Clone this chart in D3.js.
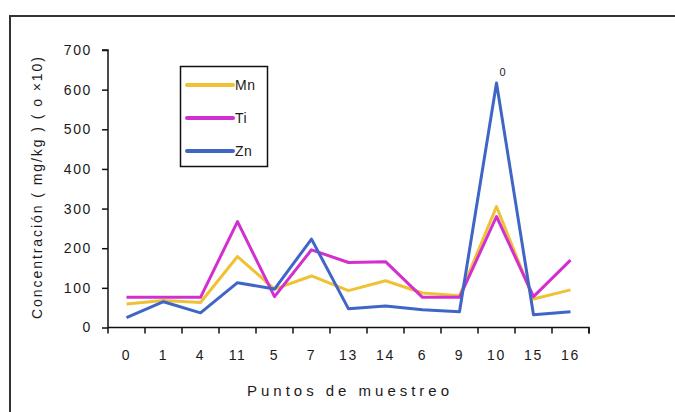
<!DOCTYPE html>
<html><head><meta charset="utf-8">
<script src="https://cdn.jsdelivr.net/npm/d3@7"></script>
<style>html,body{margin:0;padding:0;background:#fff;}svg{display:block;font-family:"Liberation Sans",Arial,sans-serif;}</style>
</head><body>
<svg id="c" width="675" height="412"></svg>
<script>
const categories = ["0","1","4","11","5","7","13","14","6","9","10","15","16"];
const mn = [59, 68, 63, 179, 97, 130, 93, 118, 87, 80, 305, 72, 95];
const ti = [76, 76, 76, 267, 78, 196, 164, 166, 76, 76, 280, 78, 170];
const zn = [25, 65, 37, 113, 97, 223, 47, 54, 45, 40, 617, 32, 40];
const seriesNames = ["Mn","Ti","Zn"];
const seriesColors = ["#eec234","#d22fcf","#3f66c6"];
const yTicks = [0,100,200,300,400,500,600,700];
const xTitle = "Puntos de muestreo";
const yTitle = "Concentración ( mg/kg ) ( o ×10)";
const annotation = "0";

const svg = d3.select("#c");
const L = 108, R = 589, T = 50, B = 327.5;
const x = d3.scaleBand().domain(categories).range([L, R]);
const y = d3.scaleLinear().domain([0,700]).range([B, T]);

// outer frame
svg.append("rect").attr("x",10).attr("y",16).attr("width",700).attr("height",420)
  .attr("fill","none").attr("stroke","#333").attr("stroke-width",2);

// y axis
const ya = svg.append("g").attr("transform",`translate(${L},0)`)
  .call(d3.axisLeft(y).tickValues(yTicks).tickSize(6).tickPadding(10));
ya.select(".domain").attr("stroke","#111").attr("stroke-width",1.5).attr("d",`M-6,${T}H0V${B}`);
ya.selectAll(".tick line").attr("stroke","#111").attr("stroke-width",1.5);
ya.selectAll(".tick text").attr("font-size",14).attr("fill","#1a1a1a").attr("letter-spacing","1.6px").attr("font-family","Liberation Sans, Arial, sans-serif");

// x axis
const xa = svg.append("g").attr("transform",`translate(0,${B})`)
  .call(d3.axisBottom(x).tickSize(0).tickPadding(23));
xa.select(".domain").attr("stroke","#111").attr("stroke-width",1.5).attr("d",`M${L},0H${R}V6`);
xa.selectAll(".tick text").attr("font-size",14).attr("fill","#1a1a1a").attr("letter-spacing","1.6px").attr("font-family","Liberation Sans, Arial, sans-serif");
// category boundary ticks
const bounds = categories.map(c => x(c)).concat([R]);
svg.append("g").selectAll("line").data(bounds).join("line")
  .attr("x1",d=>d).attr("x2",d=>d).attr("y1",B).attr("y2",B+6)
  .attr("stroke","#111").attr("stroke-width",1.5);

// lines
const data = [mn, ti, zn];
const line = d3.line().x((d,i)=>x(categories[i]) + x.bandwidth()/2).y(d=>y(d));
svg.append("g").selectAll("path").data(data).join("path")
  .attr("d", d=>line(d)).attr("fill","none")
  .attr("stroke",(d,i)=>seriesColors[i]).attr("stroke-width",3).attr("stroke-linejoin","round");

// annotation
const pk = zn.indexOf(d3.max(zn));
svg.append("text").attr("x", x(categories[pk]) + x.bandwidth()/2 + 6).attr("y", y(zn[pk]) - 7)
  .attr("font-size",11).attr("fill","#222").attr("text-anchor","middle").text(annotation);

// axis titles
svg.append("text").attr("x",348).attr("y",396).attr("text-anchor","middle")
  .attr("font-size",15).attr("fill","#1a1a1a").attr("textLength",202).attr("lengthAdjust","spacing").text(xTitle);
svg.append("text").attr("transform","translate(42,188) rotate(-90)").attr("text-anchor","middle")
  .attr("font-size",14).attr("fill","#1a1a1a").attr("textLength",262).attr("lengthAdjust","spacing").text(yTitle);

// legend
const lg = svg.append("g");
lg.append("rect").attr("x",180.5).attr("y",66.5).attr("width",87).attr("height",100)
  .attr("fill","#fff").attr("stroke","#111").attr("stroke-width",1.5);
const ly = d3.scalePoint().domain(seriesNames).range([85,151]);
seriesNames.forEach((n,i)=>{
  lg.append("line").attr("x1",187).attr("x2",233).attr("y1",ly(n)).attr("y2",ly(n))
    .attr("stroke",seriesColors[i]).attr("stroke-width",4).attr("stroke-linecap","round");
  lg.append("text").attr("x",235).attr("y",ly(n)+5).attr("font-size",14).attr("fill","#1a1a1a")
    .attr("letter-spacing","0.5px").text(n);
});
</script>
</body></html>
